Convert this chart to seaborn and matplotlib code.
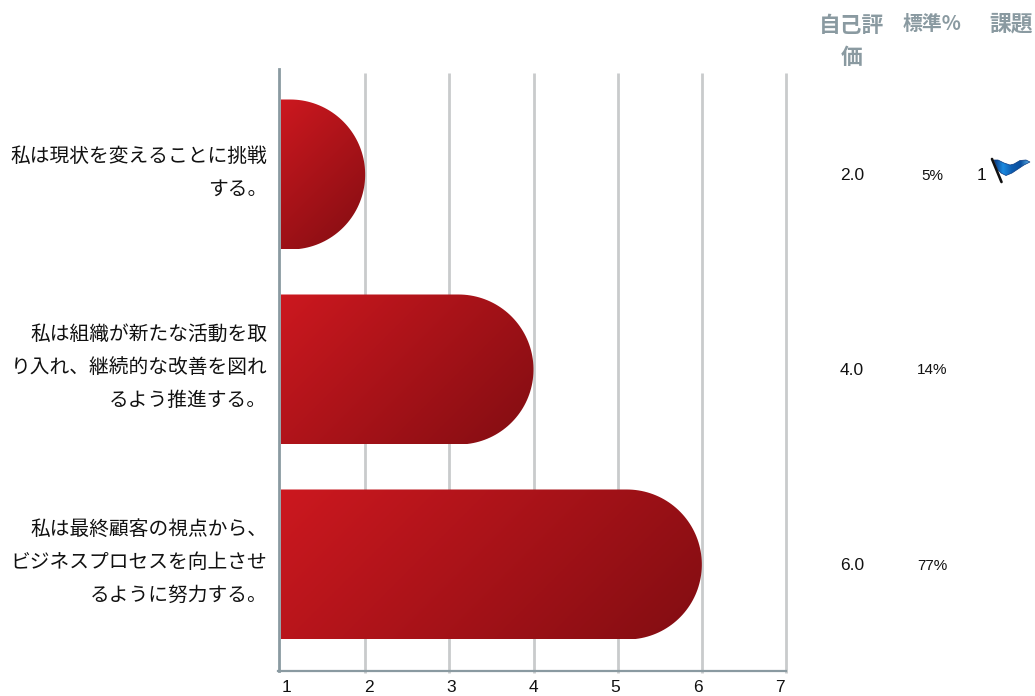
import numpy as np
import pandas as pd
import seaborn as sns
import matplotlib
matplotlib.use("Agg")
import matplotlib.pyplot as plt
from matplotlib.colors import LinearSegmentedColormap
from matplotlib.patches import PathPatch, Polygon
from matplotlib.path import Path
from matplotlib.transforms import ScaledTranslation

statements = [
    "私は現状を変えることに挑戦\nする。",
    "私は組織が新たな活動を取\nり入れ、継続的な改善を図れ\nるよう推進する。",
    "私は最終顧客の視点から、\nビジネスプロセスを向上させ\nるように努力する。",
]
self_scores = [2.0, 4.0, 6.0]
norm_percent = ["5%", "14%", "77%"]
issue_rank = ["1", "", ""]
column_titles = ["自己評\n価", "標準%", "課題"]
column_title_sizes = [15.7, 14.3, 15.7]
axis_ticks = [1, 2, 3, 4, 5, 6, 7]

W, H = 1035, 696
AX_L, AX_R, AX_T, AX_B = 281, 786, 69, 671
AXIS_GREY = "#8a9aa1"
GRID_GREY = "#c9cbcc"
BAR_CMAP = LinearSegmentedColormap.from_list("bar", ["#cc181f", "#820d12"])
FLAG_CMAP = LinearSegmentedColormap.from_list(
    "flag", ["#0a3a80", "#1b8ae0", "#0e5db0", "#0b4f9e", "#62b6ec"])
NUM_FONT = ["Liberation Sans", "DejaVu Sans"]

sns.set_theme(style="white")
plt.rcParams["font.family"] = ["Noto Sans CJK JP", "DejaVu Sans"]

fig = plt.figure(figsize=(W / 100, H / 100), dpi=100, facecolor="white")
ax = fig.add_axes([AX_L / W, 1 - AX_B / H, (AX_R - AX_L) / W, (AX_B - AX_T) / H])


def fx(px):
    return px / W


def fy(py):
    return 1 - py / H


df = pd.DataFrame({"statement": statements, "score": self_scores})
sns.barplot(data=df, x="score", y="statement", orient="h", width=150 / 195,
            color="#a81318", ax=ax, zorder=3)

ylim = ((AX_B - 174.5) / 195, (AX_T - 174.5) / 195)
ax.set_xlim(axis_ticks[0], axis_ticks[-1])
ax.set_ylim(*ylim)
ax.set_xlabel("")
ax.set_ylabel("")

# Vertical guides stop a little under the top of the left axis line.
for t in axis_ticks[1:]:
    ax.plot([t, t], [ylim[0] + 0.008, (73 - 174.5) / 195],
            color=GRID_GREY, lw=2.0, zorder=1, clip_on=False, solid_capstyle="butt")

units_x = (AX_R - AX_L) / (axis_ticks[-1] - axis_ticks[0])
units_y = 195.0

for side in ("top", "right"):
    ax.spines[side].set_visible(False)
for side in ("left", "bottom"):
    ax.spines[side].set_color(AXIS_GREY)
ax.spines["left"].set_linewidth(2.0)
ax.spines["left"].set_position(("outward", 1.1))
ax.spines["bottom"].set_linewidth(1.6)
ax.spines["bottom"].set_bounds(axis_ticks[0] - 3 / units_x, axis_ticks[-1])

# Each bar becomes a gradient image clipped to a shape with a round right end.
x0 = axis_ticks[0]
grad = np.linspace(0, 1, 200)
for bar in list(ax.patches):
    y0, h, xe = bar.get_y(), bar.get_height(), bar.get_x() + bar.get_width()
    bar.set_visible(False)
    rx = (h / 2) * units_y / units_x
    theta = np.linspace(np.pi / 2, -np.pi / 2, 80)
    cy = y0 + h / 2
    arc_x = xe - rx + rx * np.cos(theta)
    arc_y = cy - (h / 2) * np.sin(theta)
    verts = np.vstack([[x0, y0], np.column_stack([arc_x, arc_y]), [x0, y0 + h]])
    shape = Path(np.vstack([verts, verts[0]]), closed=True)
    u, v = np.meshgrid(grad, grad)
    # 45 degree sweep in screen space, so short bars shade mostly top to bottom.
    w_px, h_px = (xe - x0) * units_x, h * units_y
    im = ax.imshow((u * w_px + v * h_px) / (w_px + h_px), cmap=BAR_CMAP, vmin=0, vmax=1,
                   aspect="auto", extent=[x0, xe, y0 + h, y0], origin="upper", zorder=3,
                   interpolation="bilinear")
    im.set_clip_path(PathPatch(shape, transform=ax.transData))

ax.set_xlim(axis_ticks[0], axis_ticks[-1])
ax.set_ylim(*ylim)

ax.set_yticks(range(len(statements)))
ax.set_yticklabels(statements, fontsize=14.2, color="#111111", ha="right", linespacing=1.76)
ax.tick_params(axis="y", length=0, pad=8.8)
# Statement text sits slightly above each bar's centre line.
raise_labels = ScaledTranslation(0, 10.5 / 100, fig.dpi_scale_trans)
for label in ax.get_yticklabels():
    label.set_transform(label.get_transform() + raise_labels)

# The scale numbers are spread evenly across the axis width, so they drift from the guides.
ax.set_xticks([])
tick_px = np.linspace(286.5, 780, len(axis_ticks))
for px, t in zip(tick_px, axis_ticks):
    fig.text(fx(px), fy(687), str(t), ha="center", va="center", fontsize=12.5,
             color="#111111", family=NUM_FONT)

column_px = [852, 932, 1011]
for px, title, size in zip(column_px, column_titles, column_title_sizes):
    multi = "\n" in title
    fig.text(fx(px), fy(13.5 if multi else 24), title, ha="center",
             va="top" if multi else "center", fontsize=size, fontweight="bold",
             color=AXIS_GREY, linespacing=1.5)

for i, (score, pct, rank) in enumerate(zip(self_scores, norm_percent, issue_rank)):
    row_y = 175.5 + 195 * i
    fig.text(fx(852), fy(row_y), f"{score:.1f}", ha="center", va="center", fontsize=12.5,
             color="#111111", family=NUM_FONT)
    fig.text(fx(932), fy(row_y), pct, ha="center", va="center", fontsize=11,
             color="#111111", family=NUM_FONT)
    if rank:
        fig.text(fx(982), fy(row_y), rank, ha="center", va="center", fontsize=12.5,
                 color="#111111", family=NUM_FONT)

# Small blue flag beside the issue count.
flag_ax = fig.add_axes([0, 0, 1, 1], facecolor="none")
flag_ax.set_xlim(0, W)
flag_ax.set_ylim(H, 0)
flag_ax.axis("off")
cloth = [(994, 160), (998, 160), (1004, 163), (1010, 165), (1014, 164), (1020, 160.5),
         (1026, 160), (1030, 162), (1024, 165), (1018, 169), (1012, 173), (1006, 175.5),
         (1001, 173), (998, 170)]
fimg = flag_ax.imshow(np.linspace(0, 1, 100)[None, :], cmap=FLAG_CMAP, aspect="auto",
                      extent=[994, 1030, 177, 159], zorder=2, interpolation="bilinear")
fimg.set_clip_path(Polygon(cloth, closed=True, transform=flag_ax.transData))
flag_ax.add_patch(Polygon(cloth, closed=True, fill=False, edgecolor="#0a3a80", lw=0.5, zorder=3))
flag_ax.plot([992, 1001.5], [159, 182], color="#111111", lw=1.9, zorder=4, solid_capstyle="round")
flag_ax.set_xlim(0, W)
flag_ax.set_ylim(H, 0)

fig.savefig("out.png", dpi=100, facecolor="white")
